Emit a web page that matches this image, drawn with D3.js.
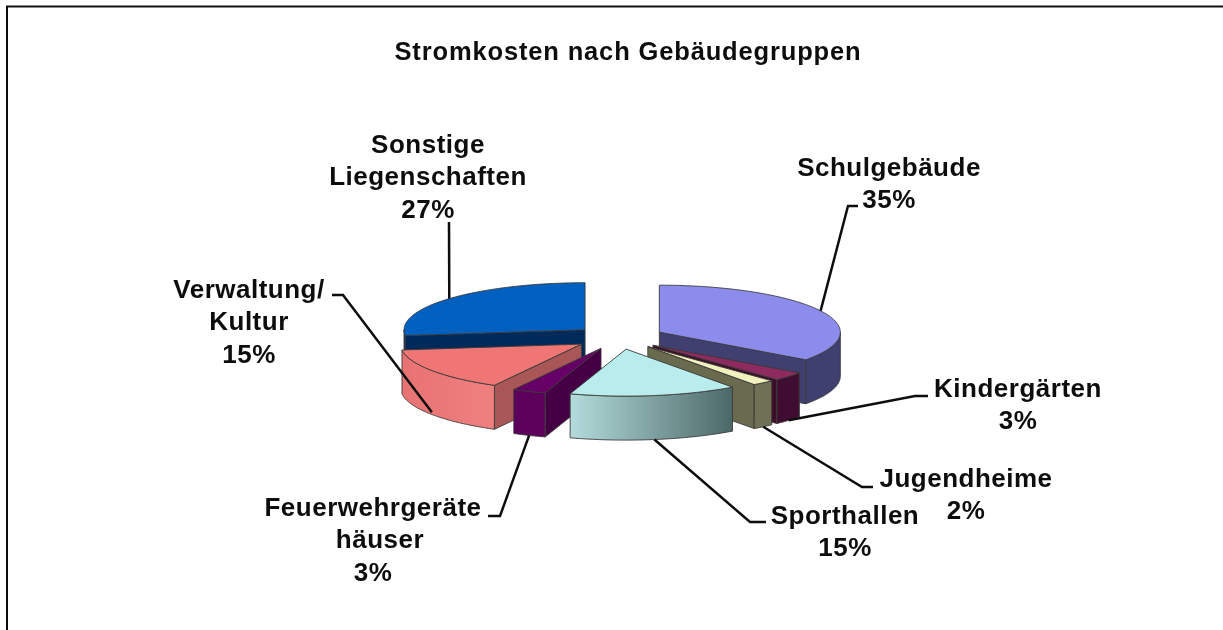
<!DOCTYPE html>
<html>
<head>
<meta charset="utf-8">
<script src="https://cdnjs.cloudflare.com/ajax/libs/d3/7.8.5/d3.min.js"></script>
<style>
  html, body { margin: 0; padding: 0; background: #fff; }
  svg { display: block; }
  text { font-family: "Liberation Sans", Arial, sans-serif; font-weight: bold; fill: #111; }
  .title { font-size: 25.5px; letter-spacing: 0.85px; }
  .label { font-size: 26px; letter-spacing: 0.5px; text-anchor: middle; }
  .leader { fill: none; stroke: #111; stroke-width: 2.5px; }
  .edge { stroke: #3a3a3a; stroke-width: 0.9px; stroke-linejoin: round; }
</style>
</head>
<body>
<script>
  const title = 'Stromkosten nach Gebäudegruppen';
  const categories = ['Schulgebäude', 'Kindergärten', 'Jugendheime', 'Sporthallen',
    'Feuerwehrgeräte\nhäuser', 'Verwaltung/\nKultur', 'Sonstige\nLiegenschaften'];
  const values = [35, 3, 2, 15, 3, 15, 27];

  // top face, radial face, outer wall from, outer wall to
  const colors = [
    ['#8c8cec', '#3f3f70', '#3f3f70', '#3f3f70'],
    ['#8f2c60', '#3c0f2a', '#401030', '#401030'],
    ['#f1f1bd', '#6a6a50', '#6f6f54', '#6f6f54'],
    ['#b9eded', '#4c6a6a', '#b4dcdc', '#4c6868'],
    ['#660066', '#440044', '#5c005c', '#5c005c'],
    ['#f07676', '#a85656', '#e87272', '#f08080'],
    ['#0060bf', '#002b5a', '#002b5a', '#002b5a']
  ];

  // back to front
  const paintOrder = [6, 0, 1, 2, 5, 4, 3];

  // label centre, first baseline, leader points from the text to the pie
  const labelLayout = [
    {x: 889, y: 176, leader: [[858, 206], [848, 206]], depth: 0},
    {x: 1018, y: 397, leader: [[928, 396], [915, 396]], depth: 1},
    {x: 966, y: 487, leader: [[873, 487], [862, 487]], depth: 1},
    {x: 845, y: 524, leader: [[766, 522], [750, 522]], depth: 1},
    {x: 373, y: 516, leader: [[488, 516], [500, 516]], depth: 1, dx: [0, 7, 0]},
    {x: 249, y: 298, leader: [[332, 295], [343, 295]], depth: 0.95},
    {x: 428, y: 153, leader: [[449, 222]], depth: 0}
  ];

  const width = 1223;
  const height = 630;
  const cx = 619;
  const cy = 337.5;
  const rx = 181;
  const ry = 47;
  const depth = 44;
  const explode = 0.25;

  const svg = d3.select('body').append('svg')
    .attr('width', width)
    .attr('height', height);

  // soft edges, the reference is a scaled up screenshot
  const defs = svg.append('defs');
  defs.append('filter')
    .attr('id', 'soft')
    .append('feGaussianBlur')
    .attr('stdDeviation', 0.45);

  const main = svg.append('g').attr('filter', 'url(#soft)');

  main.append('path')
    .attr('d', d3.line()([[7, height], [7, 6.5], [width, 6.5]]))
    .attr('fill', 'none')
    .attr('stroke', '#111')
    .attr('stroke-width', 2);

  main.append('text')
    .attr('class', 'title')
    .attr('x', 628)
    .attr('y', 60)
    .attr('text-anchor', 'middle')
    .text(title);

  const slices = d3.pie().sort(null)(values);
  const line = d3.line();

  function apex(d) {
    let mid = (d.startAngle + d.endAngle) / 2;
    return [cx + Math.sin(mid) * explode * rx, cy - Math.cos(mid) * explode * ry];
  }

  function rim(d, angle, z) {
    let a = apex(d);
    return [a[0] + Math.sin(angle) * rx, a[1] - Math.cos(angle) * ry + z];
  }

  function sweep(from, to) {
    let steps = Math.max(2, Math.ceil((to - from) / 0.01));
    return d3.range(steps + 1).map(function(i) {
      return from + (to - from) * i / steps;
    });
  }

  function radialFace(d, angle) {
    let a = apex(d);
    return [a, rim(d, angle, 0), rim(d, angle, depth), [a[0], a[1] + depth]];
  }

  paintOrder.forEach(function(i) {
    let d = slices[i];
    let c = colors[i];
    let g = main.append('g').attr('class', 'edge');

    // only the radial faces turned to the viewer
    if (Math.sin(d.startAngle) < 0) {
      g.append('path').attr('d', line(radialFace(d, d.startAngle)) + 'Z').attr('fill', c[1]);
    }
    if (Math.sin(d.endAngle) > 0) {
      g.append('path').attr('d', line(radialFace(d, d.endAngle)) + 'Z').attr('fill', c[1]);
    }

    // outer wall, front half of the ellipse only
    let from = Math.max(d.startAngle, Math.PI / 2);
    let to = Math.min(d.endAngle, Math.PI * 1.5);
    if (to > from) {
      let angles = sweep(from, to);
      let top = angles.map(function(t) { return rim(d, t, 0); });
      let bottom = angles.map(function(t) { return rim(d, t, depth); }).reverse();
      let gradId = 'wall' + i;
      let grad = defs.append('linearGradient')
        .attr('id', gradId)
        .attr('gradientUnits', 'userSpaceOnUse')
        .attr('x1', d3.min(top, function(p) { return p[0]; }))
        .attr('x2', d3.max(top, function(p) { return p[0]; }))
        .attr('y1', 0)
        .attr('y2', 0);
      grad.append('stop').attr('offset', 0).attr('stop-color', c[2]);
      grad.append('stop').attr('offset', 1).attr('stop-color', c[3]);
      g.append('path')
        .attr('d', line(top.concat(bottom)) + 'Z')
        .attr('fill', 'url(#' + gradId + ')');
    }

    // top face
    let outline = [apex(d)].concat(sweep(d.startAngle, d.endAngle).map(function(t) {
      return rim(d, t, 0);
    }));
    g.append('path').attr('d', line(outline) + 'Z').attr('fill', c[0]);
  });

  // leader lines end on the rim at the middle of the slice
  labelLayout.forEach(function(l, i) {
    let d = slices[i];
    let end = rim(d, (d.startAngle + d.endAngle) / 2, l.depth * depth);
    main.append('path')
      .attr('class', 'leader')
      .attr('d', line(l.leader.concat([end])));
  });

  labelLayout.forEach(function(l, i) {
    let rows = categories[i].split('\n').concat([values[i] + '%']);
    rows.forEach(function(row, r) {
      main.append('text')
        .attr('class', 'label')
        .attr('x', l.x + (l.dx ? l.dx[r] : 0))
        .attr('y', l.y + r * 32.3)
        .text(row);
    });
  });
</script>
</body>
</html>
